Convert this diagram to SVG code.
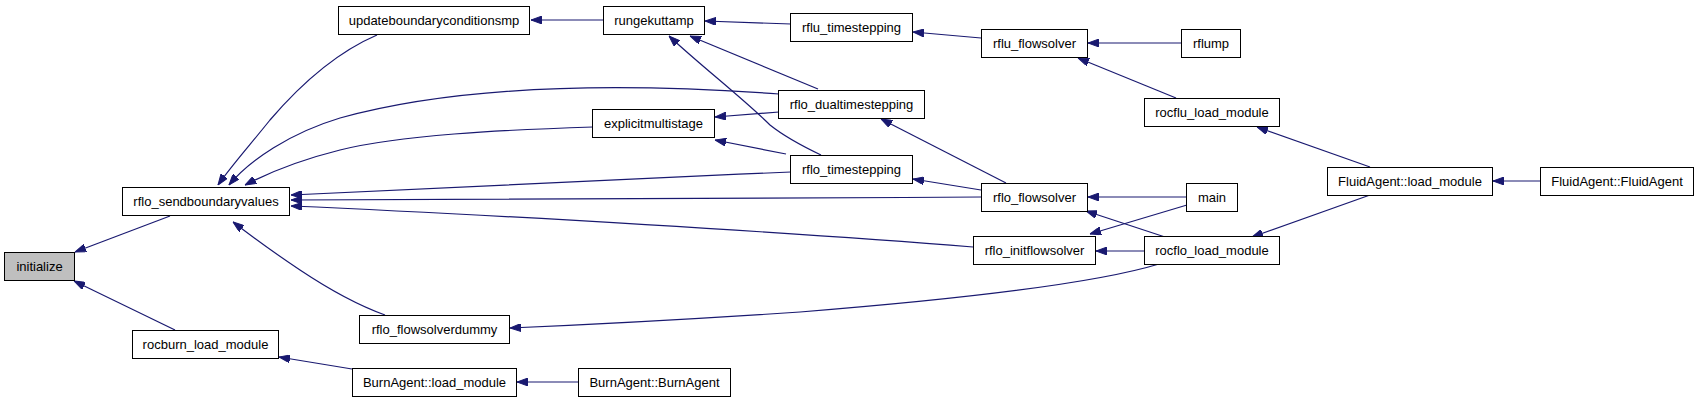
<svg xmlns="http://www.w3.org/2000/svg" width="1701" height="403" viewBox="0 0 1701 403">
<style>
.n rect{fill:#fff;stroke:#000;stroke-width:1}
.n.g rect{fill:#bfbfbf}
.n text{font-family:"Liberation Sans",Arial,sans-serif;font-size:13px;fill:#000;text-anchor:middle}
.e path{fill:none;stroke:#191970;stroke-width:1.2;marker-end:url(#ah)}
</style>
<defs>
<marker id="ah" viewBox="0 0 11 8" refX="11" refY="4" markerWidth="11" markerHeight="8" markerUnits="userSpaceOnUse" orient="auto">
<path d="M0,0 L11,4 L0,8 z" fill="#191970" stroke="#191970" stroke-width="1"/>
</marker>
</defs>
<rect width="1701" height="403" fill="#fff"/>
<g id="connectors" class="e">
<path d="M170,216 L75,252"/>
<path d="M175,330 L74,281"/>
<path d="M377,35 C335,53 300,85 270,120 C250,145 232,165 218,185"/>
<path d="M779,94 C640,84 470,82 340,118 C290,133 250,160 229,185"/>
<path d="M593,127 C500,130 400,135 340,150 C300,160 270,172 245,185"/>
<path d="M791,172 C600,180 400,190 291,195"/>
<path d="M981,197 C700,199 400,200 291,200"/>
<path d="M973,247 C800,233 500,215 291,206"/>
<path d="M385,315 C360,306 330,290 300,270 C270,250 250,235 233,222"/>
<path d="M352,369 L279,357"/>
<path d="M578,382 L517,382"/>
<path d="M1159,264 C1090,285 950,300 800,312 C680,320 580,325 510,328"/>
<path d="M603,20 L531,20"/>
<path d="M791,24 L705,21"/>
<path d="M981,38 L913,32"/>
<path d="M818,89 L690,36"/>
<path d="M821,155 C800,145 785,137 770,125 C745,100 700,65 669,36"/>
<path d="M779,112 L715,117"/>
<path d="M786,154 L715,140"/>
<path d="M1006,183 L881,119"/>
<path d="M981,190 L913,179"/>
<path d="M1182,43 L1088,43"/>
<path d="M1176,98 L1078,58"/>
<path d="M1370,167 L1257,127"/>
<path d="M1541,181 L1493,181"/>
<path d="M1186,197 L1088,197"/>
<path d="M1165,237 L1086,211"/>
<path d="M1187,205 L1090,234"/>
<path d="M1144,251 L1096,251"/>
<path d="M1370,195 L1252,237"/>
</g>
<g id="initialize" class="n g"><rect x="4.5" y="252.5" width="70" height="28"/><text x="39.5" y="271">initialize</text></g>
<g id="rflo_sendboundaryvalues" class="n"><rect x="122.5" y="187.5" width="167" height="28"/><text x="206" y="206">rflo_sendboundaryvalues</text></g>
<g id="rocburn_load_module" class="n"><rect x="132.5" y="330.5" width="146" height="28"/><text x="205.5" y="349">rocburn_load_module</text></g>
<g id="updateboundaryconditionsmp" class="n"><rect x="338.5" y="6.5" width="191" height="28"/><text x="434" y="25">updateboundaryconditionsmp</text></g>
<g id="rflo_flowsolverdummy" class="n"><rect x="359.5" y="315.5" width="150" height="28"/><text x="434.5" y="334">rflo_flowsolverdummy</text></g>
<g id="BurnAgent_load_module" class="n"><rect x="352.5" y="368.5" width="164" height="28"/><text x="434.5" y="387">BurnAgent::load_module</text></g>
<g id="rungekuttamp" class="n"><rect x="603.5" y="6.5" width="101" height="28"/><text x="654" y="25">rungekuttamp</text></g>
<g id="explicitmultistage" class="n"><rect x="592.5" y="109.5" width="122" height="28"/><text x="653.5" y="128">explicitmultistage</text></g>
<g id="BurnAgent_BurnAgent" class="n"><rect x="578.5" y="368.5" width="152" height="28"/><text x="654.5" y="387">BurnAgent::BurnAgent</text></g>
<g id="rflu_timestepping" class="n"><rect x="790.5" y="13.5" width="122" height="28"/><text x="851.5" y="32">rflu_timestepping</text></g>
<g id="rflo_dualtimestepping" class="n"><rect x="778.5" y="90.5" width="146" height="28"/><text x="851.5" y="109">rflo_dualtimestepping</text></g>
<g id="rflo_timestepping" class="n"><rect x="790.5" y="155.5" width="122" height="28"/><text x="851.5" y="174">rflo_timestepping</text></g>
<g id="rflu_flowsolver" class="n"><rect x="981.5" y="29.5" width="106" height="28"/><text x="1034.5" y="48">rflu_flowsolver</text></g>
<g id="rflo_flowsolver" class="n"><rect x="981.5" y="183.5" width="106" height="28"/><text x="1034.5" y="202">rflo_flowsolver</text></g>
<g id="rflo_initflowsolver" class="n"><rect x="973.5" y="236.5" width="122" height="28"/><text x="1034.5" y="255">rflo_initflowsolver</text></g>
<g id="rflump" class="n"><rect x="1181.5" y="29.5" width="59" height="28"/><text x="1211" y="48">rflump</text></g>
<g id="rocflu_load_module" class="n"><rect x="1144.5" y="98.5" width="135" height="28"/><text x="1212" y="117">rocflu_load_module</text></g>
<g id="main" class="n"><rect x="1186.5" y="183.5" width="51" height="28"/><text x="1212" y="202">main</text></g>
<g id="rocflo_load_module" class="n"><rect x="1144.5" y="236.5" width="135" height="28"/><text x="1212" y="255">rocflo_load_module</text></g>
<g id="FluidAgent_load_module" class="n"><rect x="1327.5" y="167.5" width="165" height="28"/><text x="1410" y="186">FluidAgent::load_module</text></g>
<g id="FluidAgent_FluidAgent" class="n"><rect x="1540.5" y="167.5" width="153" height="28"/><text x="1617" y="186">FluidAgent::FluidAgent</text></g>
</svg>
